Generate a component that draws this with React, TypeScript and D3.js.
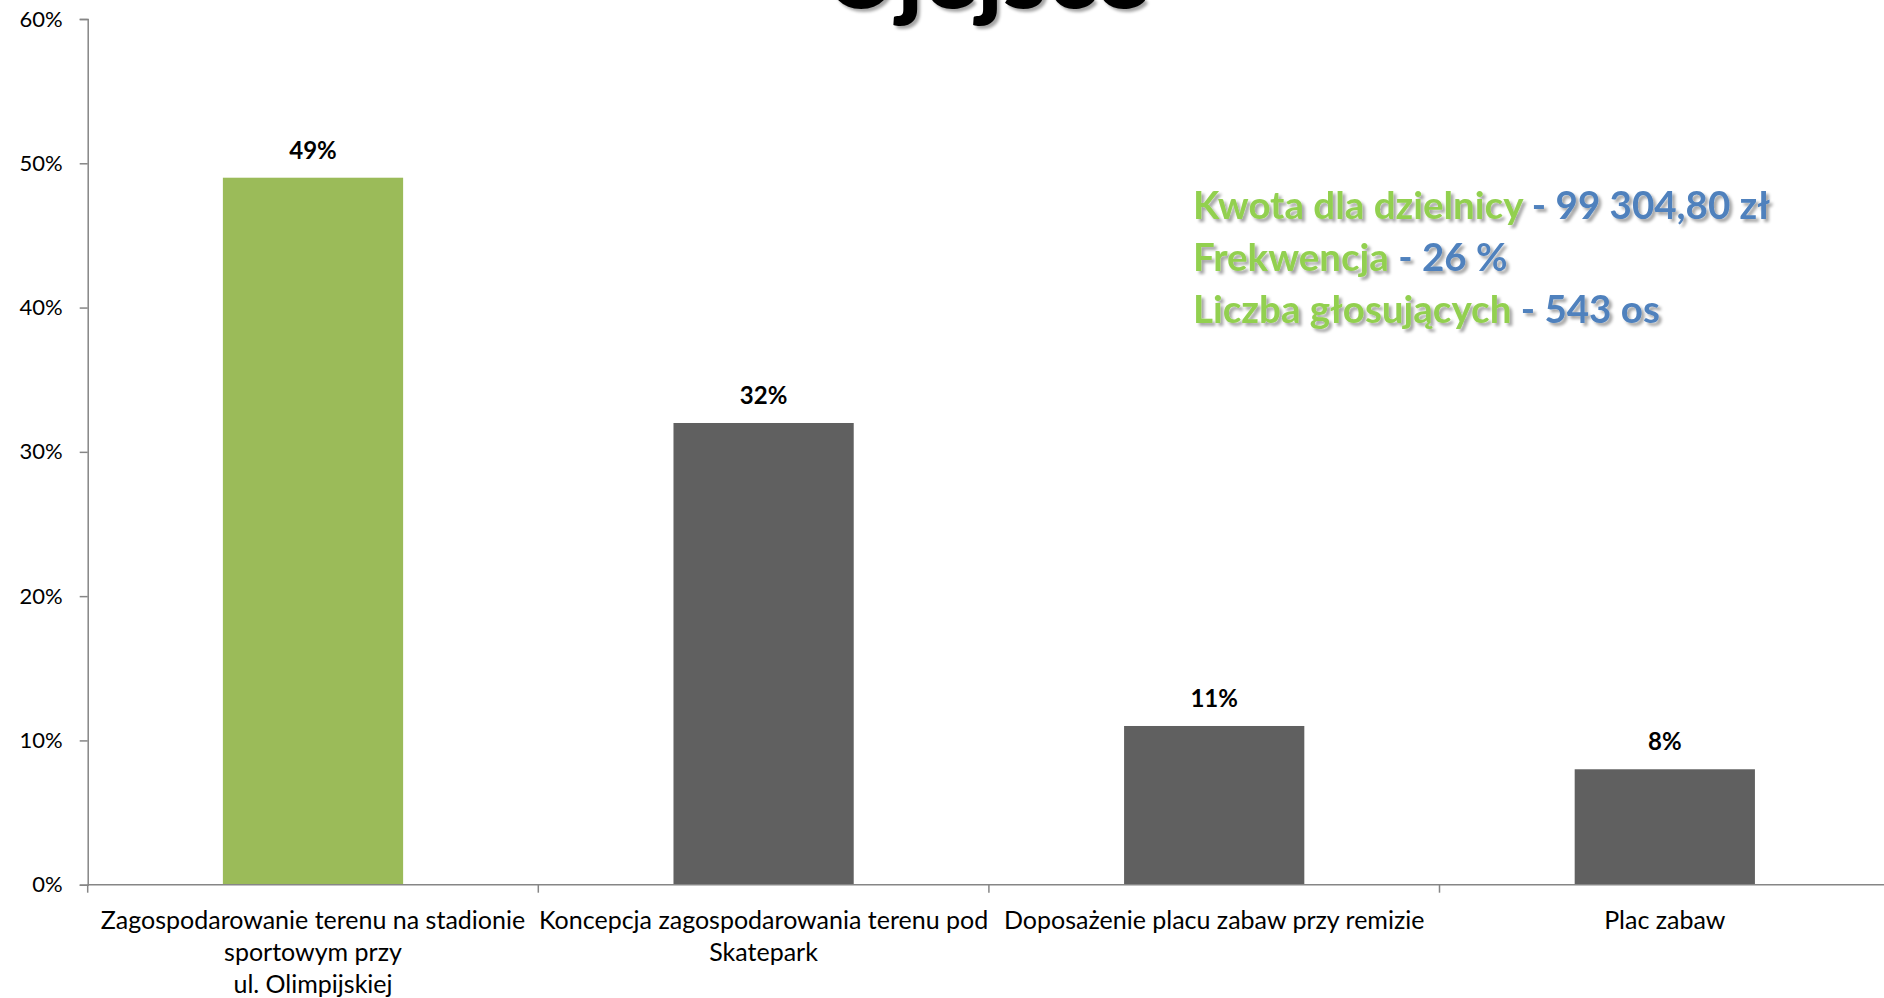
import { useEffect, useRef } from 'react';
import * as d3 from 'd3';

const title = 'Ujejsce';

const categories = [
  'Zagospodarowanie terenu na stadionie\nsportowym przy\nul. Olimpijskiej',
  'Koncepcja zagospodarowania terenu pod\nSkatepark',
  'Doposażenie placu zabaw przy remizie',
  'Plac zabaw',
];
const values = [0.49, 0.32, 0.11, 0.08];
const barColors = ['#9bbb59', '#606060', '#606060', '#606060'];

const yTicks = [0, 0.1, 0.2, 0.3, 0.4, 0.5, 0.6];

const infoLabels = ['Kwota dla dzielnicy', 'Frekwencja', 'Liczba głosujących'];
const infoValues = ['99 304,80 zł', '26 %', '543 os'];

const W = 1884;
const H = 998;
const FONT = 'Lato, "Open Sans", sans-serif';

export default function App() {
  const ref = useRef<SVGSVGElement | null>(null);

  useEffect(() => {
    if (!ref.current) return;
    const svg = d3.select(ref.current);
    svg.selectAll('*').remove();

    const left = 87.7;
    const step = 450.6;
    const x = d3.scaleBand<string>()
      .domain(categories)
      .range([left, left + step * categories.length])
      .padding(0);

    const y = d3.scaleLinear().domain([0, 0.6]).range([884.7, 19]);

    const defs = svg.append('defs');
    const sh = defs.append('filter').attr('id', 'shadow')
      .attr('x', '-10%').attr('y', '-20%').attr('width', '130%').attr('height', '160%');
    sh.append('feDropShadow')
      .attr('dx', 3).attr('dy', 3).attr('stdDeviation', 1.5)
      .attr('flood-color', '#000').attr('flood-opacity', 0.35);

    // bars
    const barW = x.bandwidth() * 0.4;
    svg.append('g')
      .selectAll('rect')
      .data(values)
      .enter()
      .append('rect')
      .attr('x', (d, i) => x(categories[i])! + (x.bandwidth() - barW) / 2)
      .attr('y', d => y(d))
      .attr('width', barW)
      .attr('height', d => y(0) - y(d))
      .attr('fill', (d, i) => barColors[i]);

    // value labels
    svg.append('g')
      .selectAll('text')
      .data(values)
      .enter()
      .append('text')
      .attr('x', (d, i) => x(categories[i])! + x.bandwidth() / 2)
      .attr('y', d => y(d) - 19)
      .attr('text-anchor', 'middle')
      .style('font-family', FONT)
      .style('font-weight', 700)
      .style('font-size', '24px')
      .style('fill', '#000')
      .text(d => d3.format('.0%')(d));

    // y axis
    const yAxis = svg.append('g')
      .attr('transform', `translate(${left},0)`)
      .call(d3.axisLeft(y).tickValues(yTicks).tickFormat(d3.format('.0%')).tickSize(8).tickPadding(17));
    yAxis.select('.domain').attr('stroke', '#868686').attr('stroke-width', 1.5);
    yAxis.selectAll('.tick line').attr('stroke', '#868686').attr('stroke-width', 1.5);
    yAxis.selectAll('.tick text')
      .style('font-family', FONT)
      .style('font-size', '22px')
      .style('fill', '#000');

    // x axis
    const boundaries = categories.map(c => x(c)!).concat([x.range()[1]]);
    const xAxis = svg.append('g').attr('transform', `translate(0,${y(0)})`);
    xAxis.append('line')
      .attr('x1', left).attr('x2', x.range()[1])
      .attr('stroke', '#868686').attr('stroke-width', 1.5);
    xAxis.selectAll('line.tick')
      .data(boundaries)
      .enter()
      .append('line')
      .attr('class', 'tick')
      .attr('x1', d => d).attr('x2', d => d)
      .attr('y1', 0).attr('y2', 8)
      .attr('stroke', '#868686').attr('stroke-width', 1.5);

    const catText = svg.append('g')
      .selectAll('text')
      .data(categories)
      .enter()
      .append('text')
      .attr('x', d => x(d)! + x.bandwidth() / 2)
      .attr('y', 929)
      .attr('text-anchor', 'middle')
      .style('font-family', FONT)
      .style('font-size', '25px')
      .style('fill', '#000');
    catText.selectAll('tspan')
      .data(d => d.split('\n'))
      .enter()
      .append('tspan')
      .attr('x', function () {
        return (this as any).parentNode.getAttribute('x');
      })
      .attr('dy', (d, i) => (i === 0 ? 0 : 32))
      .text(d => d);

    // info block
    const info = svg.append('g').attr('filter', 'url(#shadow)');
    infoLabels.forEach((label, i) => {
      const t = info.append('text')
        .attr('x', 1193)
        .attr('y', 219 + i * 52)
        .style('font-family', FONT)
        .style('font-weight', 700)
        .style('font-size', '38.5px');
      t.append('tspan').attr('fill', '#92d050').text(label);
      t.append('tspan').attr('fill', '#4f81bd').text(` - ${infoValues[i]}`);
    });

    // title, cut off at the top
    svg.append('text')
      .attr('x', 986)
      .attr('y', 8)
      .attr('text-anchor', 'middle')
      .attr('filter', 'url(#shadow)')
      .style('font-family', FONT)
      .style('font-weight', 900)
      .style('font-size', '100px')
      .style('fill', '#000')
      .text(title);
  }, []);

  return (
    <svg
      ref={ref}
      width={W}
      height={H}
      style={{ position: 'absolute', left: 0, top: 0, background: '#fff' }}
    />
  );
}
